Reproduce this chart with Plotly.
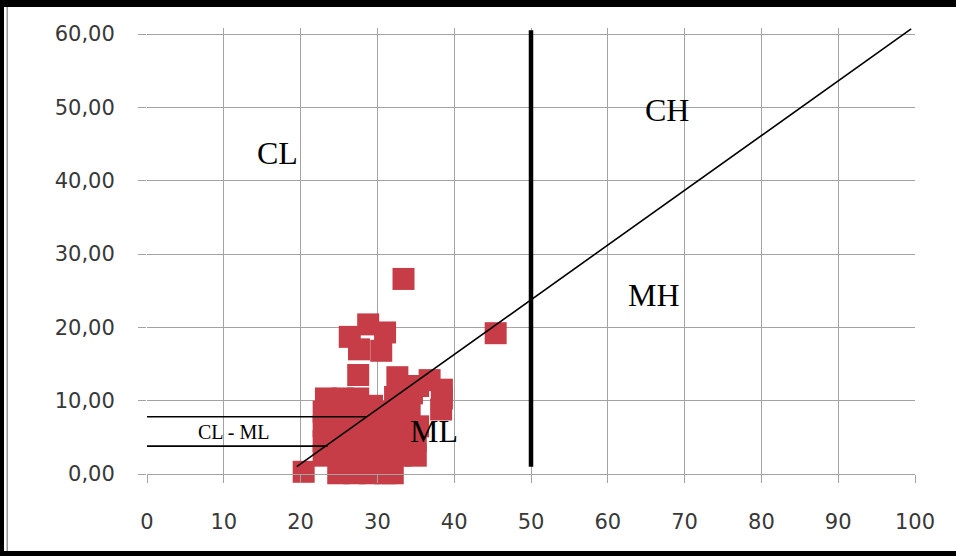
import plotly.graph_objects as go

# Liquid limit (LL) and plasticity index (PI) of the samples
ll = [20.4, 24.9, 27.0, 29.0, 31.0, 32.0,
      23.0, 25.0, 27.0, 29.0, 31.0, 33.0, 35.0,
      23.0, 25.0, 27.0, 29.0, 31.0, 33.0, 35.0,
      23.0, 25.0, 27.0, 29.0, 31.0, 33.0, 35.3,
      23.0, 25.0, 27.0, 29.0, 31.0, 33.0, 34.2, 38.3,
      23.3, 25.5, 27.5, 29.3, 32.3, 34.5, 38.4,
      27.5, 32.6, 35.3, 36.8, 38.4,
      28.8, 31.0, 26.4, 27.6, 30.5,
      33.4, 45.4]
pi = [0.3, 0.1, 0.1, 0.1, 0.1, 0.1,
      2.5, 2.5, 2.5, 2.5, 2.5, 2.5, 2.5,
      4.5, 4.5, 4.5, 4.5, 4.5, 4.5, 4.5,
      6.5, 6.5, 6.5, 6.5, 6.5, 6.5, 6.5,
      8.5, 8.5, 8.5, 8.5, 8.5, 8.5, 8.5, 8.8,
      10.3, 10.3, 10.3, 9.3, 10.5, 11.0, 10.3,
      13.5, 13.2, 12.0, 12.8, 11.5,
      20.4, 19.3, 18.7, 17.0, 16.8,
      26.6, 19.2]

# Classification boundaries
a_line_x = [19.5, 99.5]
a_line_y = [1.0, 60.7]
ll50_x = [50, 50]
ll50_y = [1.0, 60.5]
clml_top_x = [0, 28.5]
clml_top_y = [7.8, 7.8]
clml_bot_x = [0, 23.5]
clml_bot_y = [3.8, 3.8]

# Zone labels
zone_text = ["CL", "CH", "MH", "ML"]
zone_x = [17.0, 67.7, 66.0, 37.4]
zone_y = [43.8, 49.6, 24.4, 5.9]
small_text = "CL - ML"
small_x, small_y = 11.3, 5.7

x_ticks = [0, 10, 20, 30, 40, 50, 60, 70, 80, 90, 100]
y_ticks = [0, 10, 20, 30, 40, 50, 60]
y_tick_text = ["0,00", "10,00", "20,00", "30,00", "40,00", "50,00", "60,00"]
y_top = 60  # last gridline; the boundary lines run slightly past it

fig = go.Figure()

fig.add_trace(go.Scatter(
    x=ll, y=pi, mode="markers",
    marker=dict(symbol="square", size=22, color="#C73D47", line=dict(width=0)),
    cliponaxis=False, showlegend=False))

for xs, ys, w in [(a_line_x, a_line_y, 1.6), (ll50_x, ll50_y, 4.5),
                  (clml_top_x, clml_top_y, 1.6), (clml_bot_x, clml_bot_y, 1.6)]:
    fig.add_trace(go.Scatter(x=xs, y=ys, mode="lines",
                             line=dict(color="black", width=w),
                             cliponaxis=False, showlegend=False))

for t, x, y in zip(zone_text, zone_x, zone_y):
    fig.add_annotation(x=x, y=y, text=t, showarrow=False,
                       font=dict(family="Liberation Serif", size=32, color="black"))
fig.add_annotation(x=small_x, y=small_y, text=small_text, showarrow=False,
                   font=dict(family="Liberation Serif", size=20, color="black"))

# Layout geometry: the plot area reaches a little above the 60 gridline
W, H = 956, 556
L, R, T, B = 147, 41, 28, 82
pw, ph = W - L - R, H - T - B
unit_px = 440 / 60.0
y_max = ph / unit_px

# hide the grid above the top gridline (traces stay visible)
fig.add_shape(type="rect", xref="paper", yref="y", x0=-0.01, x1=1.01,
              y0=y_top + 0.12, y1=y_max + 0.5, fillcolor="white",
              line=dict(width=0), layer="between")


def px(x):
    return (x - L) / pw


def py(y):
    return (H - B - y) / ph


frame = [
    dict(x0=px(0), x1=px(W), y0=py(0), y1=py(7), fillcolor="black"),
    dict(x0=px(0), x1=px(4), y0=py(0), y1=py(H), fillcolor="black"),
    dict(x0=px(0), x1=px(W), y0=py(551), y1=py(H), fillcolor="black"),
    dict(x0=px(6.5), x1=px(8), y0=py(7), y1=py(551), fillcolor="#9a9a9a"),
]
for f in frame:
    fig.add_shape(type="rect", xref="paper", yref="paper", line=dict(width=0),
                  layer="above", **f)

axis_common = dict(showgrid=True, gridcolor="#a3a3a3", gridwidth=1,
                   linecolor="#a3a3a3", linewidth=1,
                   ticks="outside", ticklen=8, tickcolor="#a3a3a3",
                   zeroline=False, mirror=False,
                   tickfont=dict(family="DejaVu Sans", size=21, color="#383838"))

fig.update_xaxes(range=[0, 100], tickvals=x_ticks, ticklabelstandoff=21,
                 showline=True, **axis_common)
fig.update_yaxes(range=[0, y_max], tickvals=y_ticks, ticktext=y_tick_text,
                 ticklabelstandoff=19, showline=False, **axis_common)

fig.update_layout(width=W, height=H, margin=dict(l=L, r=R, t=T, b=B),
                  paper_bgcolor="white", plot_bgcolor="white")

fig.write_html("out.html")
